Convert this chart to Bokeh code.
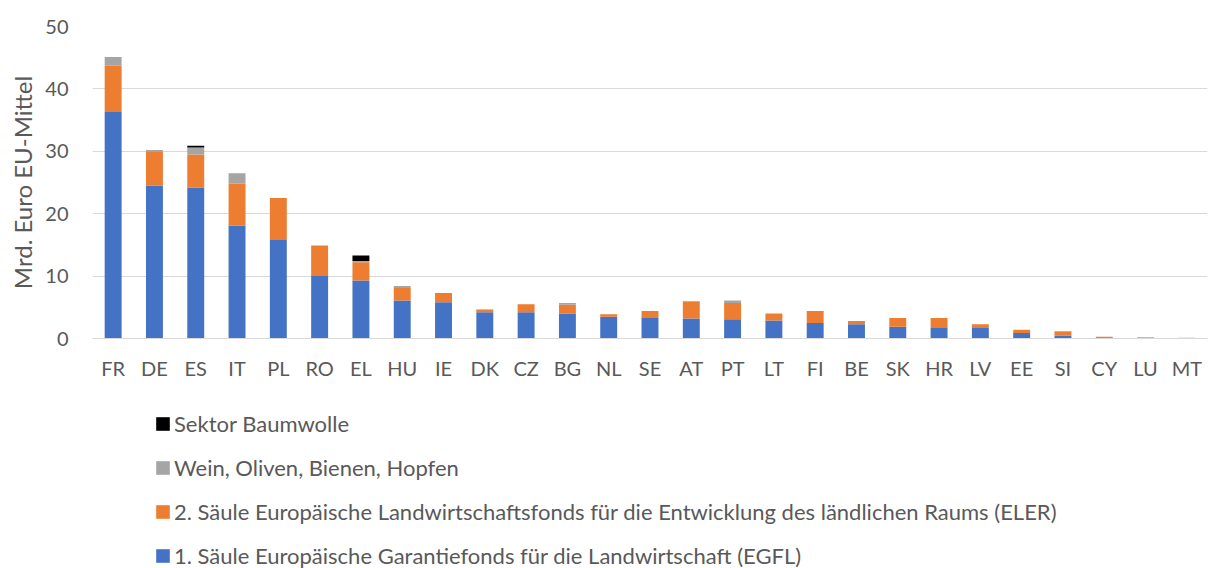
from bokeh.plotting import figure
from bokeh.models import ColumnDataSource, Legend, LegendItem, FactorRange, Range1d, FixedTicker
from bokeh.layouts import column
from bokeh.embed import file_html
from bokeh.resources import INLINE

countries = ["FR", "DE", "ES", "IT", "PL", "RO", "EL", "HU", "IE", "DK", "CZ", "BG", "NL", "SE",
             "AT", "PT", "LT", "FI", "BE", "SK", "HR", "LV", "EE", "SI", "CY", "LU", "MT"]
egfl = [36.3, 24.5, 24.2, 18.1, 15.8, 10.0, 9.3, 6.1, 5.8, 4.2, 4.2, 4.0, 3.5, 3.3,
        3.2, 3.1, 2.9, 2.5, 2.3, 1.9, 1.7, 1.7, 0.9, 0.5, 0.1, 0.05, 0.03]
eler = [7.4, 5.4, 5.3, 6.7, 6.7, 4.9, 2.9, 2.0, 1.5, 0.4, 1.3, 1.4, 0.4, 1.1,
        2.7, 2.6, 1.1, 1.9, 0.5, 1.4, 1.6, 0.6, 0.5, 0.6, 0.2, 0.05, 0.05]
wein = [1.4, 0.3, 1.1, 1.7, 0.0, 0.0, 0.2, 0.3, 0.0, 0.1, 0.0, 0.3, 0.0, 0.0,
        0.1, 0.4, 0.0, 0.0, 0.0, 0.0, 0.0, 0.0, 0.0, 0.1, 0.0, 0.1, 0.05]
baumwolle = [0.0, 0.0, 0.3, 0.0, 0.0, 0.0, 0.9, 0.0, 0.0, 0.0, 0.0, 0.0, 0.0, 0.0,
             0.0, 0.0, 0.0, 0.0, 0.0, 0.0, 0.0, 0.0, 0.0, 0.0, 0.0, 0.0, 0.0]

series_keys = ["egfl", "eler", "wein", "baumwolle"]
series_labels = [
    "1. Säule Europäische Garantiefonds für die Landwirtschaft (EGFL)",
    "2. Säule Europäische Landwirtschaftsfonds für die Entwicklung des ländlichen Raums (ELER)",
    "Wein, Oliven, Bienen, Hopfen",
    "Sektor Baumwolle",
]
colors = ["#4472C4", "#ED7D31", "#A5A5A5", "#000000"]
y_ticks = [0, 10, 20, 30, 40, 50]

source = ColumnDataSource(data=dict(country=countries, egfl=egfl, eler=eler,
                                    wein=wein, baumwolle=baumwolle))

FONT = "Lato"
TXT = "#595959"

p = figure(x_range=FactorRange(*countries, range_padding=0), y_range=Range1d(0, 50),
           width=1208, height=400, output_backend="svg", toolbar_location=None,
           min_border_left=92, min_border_right=1, min_border_top=26, min_border_bottom=62)
p.outline_line_color = None

p.vbar_stack(series_keys, x="country", width=0.41, color=colors,
             line_color=None, source=source)

p.yaxis.ticker = FixedTicker(ticks=y_ticks)
p.yaxis.axis_line_color = None
p.yaxis.major_tick_line_color = None
p.yaxis.major_tick_out = 0
p.yaxis.major_tick_in = 0
p.yaxis.minor_tick_line_color = None
p.yaxis.major_label_standoff = 24
p.yaxis.major_label_text_font = FONT
p.yaxis.major_label_text_font_size = "20px"
p.yaxis.major_label_text_color = TXT
p.yaxis.axis_label = "Mrd. Euro EU-Mittel"
p.yaxis.axis_label_text_font = FONT
p.yaxis.axis_label_text_font_size = "24px"
p.yaxis.axis_label_text_font_style = "normal"
p.yaxis.axis_label_text_color = TXT
p.yaxis.axis_label_standoff = 5

p.xaxis.axis_line_color = "#D9D9D9"
p.xaxis.major_tick_line_color = None
p.xaxis.minor_tick_line_color = None
p.xaxis.major_label_standoff = 11
p.xaxis.major_label_text_font = FONT
p.xaxis.major_label_text_font_size = "20px"
p.xaxis.major_label_text_color = TXT

p.xgrid.grid_line_color = None
p.ygrid.grid_line_color = "#D9D9D9"
p.ygrid.grid_line_width = 1

# legend panel: same stacked series, drawn outside its visible y window
lg = figure(width=1208, height=168, output_backend="svg", toolbar_location=None,
            x_range=FactorRange(*countries), y_range=Range1d(1000, 1001),
            min_border_left=0, min_border_right=0, min_border_top=0, min_border_bottom=0)
lg.axis.visible = False
lg.grid.visible = False
lg.outline_line_color = None
lg_r = lg.vbar_stack(series_keys, x="country", width=0.41, color=colors,
                     line_color=None, source=source)
items = [LegendItem(label=series_labels[i], renderers=[lg_r[i]]) for i in (3, 2, 1, 0)]
legend = Legend(items=items, location=(62, -1), orientation="vertical",
                label_text_font=FONT, label_text_font_size="22px", label_text_color=TXT,
                glyph_width=17, glyph_height=17, label_height=28, spacing=16,
                label_standoff=3, padding=0, margin=0,
                border_line_color=None, background_fill_alpha=0)
lg.add_layout(legend, "center")

open("out.html", "w").write(file_html(column(p, lg), INLINE))
